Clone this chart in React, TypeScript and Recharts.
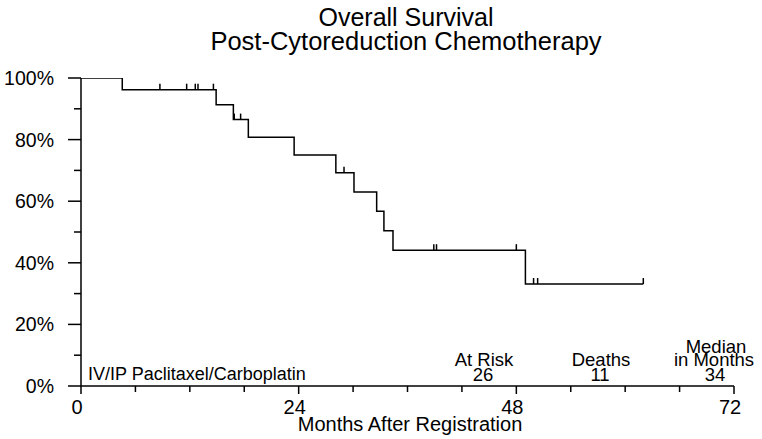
import {
  ComposedChart, Line, Scatter, XAxis, YAxis, Customized,
} from 'recharts';

const FONT = '"Liberation Sans", Arial, Helvetica, sans-serif';

// step points of the survival curve (months, % surviving)
const months = [0, 4.55, 14.9, 16.8, 18.45, 23.5, 28.1, 30.1, 32.6, 33.4, 34.4, 49.0, 62.0];
const survival = [100, 96.2, 91.3, 86.5, 80.8, 75.0, 69.2, 63.0, 56.7, 50.4, 44.1, 33.1, 33.1];

// censored patients
const censorMonths = [8.7, 11.65, 12.6, 12.9, 14.6, 16.9, 17.6, 29.0, 38.9, 39.2, 48.0, 49.9, 50.35, 62.0];

const xTicks = [0, 6, 12, 18, 24, 30, 36, 42, 48, 54, 60, 66, 72];
const xLabeled = [0, 24, 48, 72];
const yTicks = [0, 10, 20, 30, 40, 50, 60, 70, 80, 90, 100];
const yLabeled = [0, 20, 40, 60, 80, 100];

const groupLabel = 'IV/IP Paclitaxel/Carboplatin';
const atRisk = 26;
const deaths = 11;
const medianMonths = 34;

const curve = months.map((t, i) => ({ t, s: survival[i] }));

const survivalAt = (t: number) => {
  let v = survival[0];
  months.forEach((m, i) => { if (m <= t) v = survival[i]; });
  return v;
};
const censors = censorMonths.map(t => ({ t, s: survivalAt(t) }));

const CensorMark = (props: any) => {
  const { cx, cy } = props;
  return <line x1={cx} x2={cx} y1={cy} y2={cy - 6} stroke="#000" strokeWidth={1.5} />;
};

const YTick = (props: any) => {
  const { x, y, payload } = props;
  const major = yLabeled.includes(payload.value);
  return (
    <g>
      <line x1={x - (major ? 13 : 7)} x2={x} y1={y} y2={y} stroke="#000" strokeWidth={1.5} />
      {major && (
        <text x={x - 27} y={y + 7} textAnchor="end" fontSize={19.5} fontFamily={FONT} fill="#000">
          {payload.value}%
        </text>
      )}
    </g>
  );
};

const XTick = (props: any) => {
  const { x, y, payload } = props;
  const major = xLabeled.includes(payload.value);
  return (
    <g>
      <line x1={x} x2={x} y1={y} y2={y + (major ? 8 : 6)} stroke="#000" strokeWidth={1.5} />
      {major && (
        <text x={x - 4} y={y + 28} textAnchor="middle" fontSize={20} fontFamily={FONT} fill="#000">
          {payload.value}
        </text>
      )}
    </g>
  );
};

const txt = (x: number, y: number, s: string | number, size = 18.5, anchor = 'middle') => (
  <text x={x} y={y} textAnchor={anchor as any} fontSize={size} fontFamily={FONT} fill="#000">
    {s}
  </text>
);

const Annotations = () => (
  <g>
    {txt(406, 26, 'Overall Survival', 25)}
    {txt(406, 50, 'Post-Cytoreduction Chemotherapy', 25.5)}
    {txt(88, 380, groupLabel, 18, 'start')}
    {txt(484, 366, 'At Risk')}
    {txt(483, 381, atRisk)}
    {txt(601, 366, 'Deaths')}
    {txt(600, 381, deaths)}
    {txt(716, 353, 'Median')}
    {txt(714, 366, 'in Months')}
    {txt(715, 381, medianMonths)}
    {txt(410, 431, 'Months After Registration', 20)}
  </g>
);

export default function App() {
  return (
    <div style={{ position: 'absolute', left: 0, top: 0, width: 762, height: 439, background: '#fff' }}>
      <ComposedChart width={762} height={439} margin={{ top: 78, right: 28, bottom: 0, left: 0 }}>
        <XAxis
          dataKey="t"
          type="number"
          domain={[0, 72]}
          ticks={xTicks}
          interval={0}
          height={53}
          tickSize={0}
          tickMargin={0}
          tick={<XTick />}
          axisLine={{ stroke: '#000', strokeWidth: 1.5 }}
          allowDataOverflow
        />
        <YAxis
          type="number"
          domain={[0, 100]}
          ticks={yTicks}
          interval={0}
          width={81}
          tickSize={0}
          tickMargin={0}
          tick={<YTick />}
          axisLine={{ stroke: '#000', strokeWidth: 1.5 }}
          allowDataOverflow
        />
        <Line
          data={curve}
          dataKey="s"
          type="stepAfter"
          stroke="#000"
          strokeWidth={1.5}
          dot={false}
          activeDot={false}
          isAnimationActive={false}
        />
        <Scatter
          data={censors}
          dataKey="s"
          shape={<CensorMark />}
          isAnimationActive={false}
        />
        <Customized component={Annotations} />
      </ComposedChart>
    </div>
  );
}
